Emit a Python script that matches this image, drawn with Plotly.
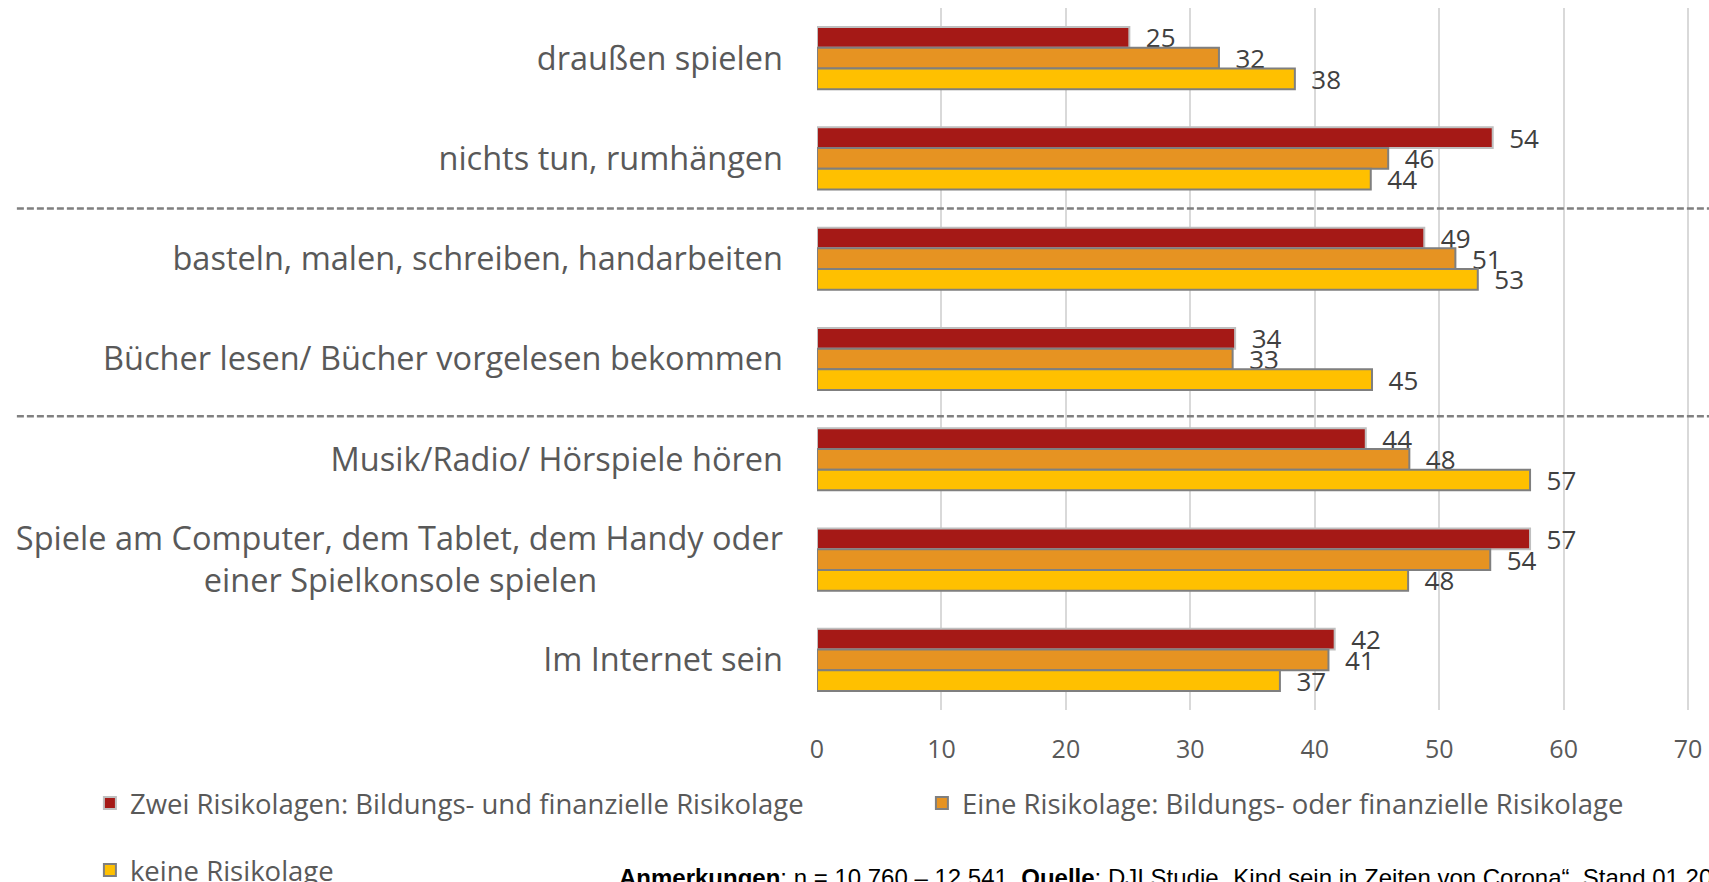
import plotly.graph_objects as go

categories = [
    "draußen spielen",
    "nichts tun, rumhängen",
    "basteln, malen, schreiben, handarbeiten",
    "Bücher lesen/ Bücher vorgelesen bekommen",
    "Musik/Radio/ Hörspiele hören",
    "Spiele am Computer, dem Tablet, dem Handy oder<br>einer Spielkonsole spielen" + "\u00a0" * 22,
    "Im Internet sein",
]
series_names = [
    "Zwei Risikolagen: Bildungs- und finanzielle Risikolage",
    "Eine Risikolage: Bildungs- oder finanzielle Risikolage",
    "keine Risikolage",
]
zwei = [25.1, 54.3, 48.8, 33.6, 44.1, 57.3, 41.6]
eine = [32.3, 45.9, 51.3, 33.4, 47.6, 54.1, 41.1]
keine = [38.4, 44.5, 53.1, 44.6, 57.3, 47.5, 37.2]
x_ticks = [0, 10, 20, 30, 40, 50, 60, 70]

colors = ["#A51916", "#E69322", "#FFC000"]
borders = ["#BFBFBF", "#7F7F7F", "#7F7F7F"]
FONT = "Open Sans, Noto Sans, sans-serif"

fig = go.Figure()
for i, (vals, name) in enumerate(zip([zwei, eine, keine], series_names)):
    fig.add_trace(go.Bar(
        y=categories, x=vals, name=name, orientation="h",
        marker=dict(color=colors[i], line=dict(color=borders[i], width=2)),
        text=[f"{round(v):d}" for v in vals],
        texttemplate="\u00a0\u00a0%{text}",
        textposition="outside",
        constraintext="none",
        textfont=dict(family=FONT, size=26, color="#404040"),
        cliponaxis=False,
        legend="legend" if i < 2 else "legend2",
    ))

fig.data[0].legendwidth = 787
fig.data[1].legendwidth = 690

# dashed separators
for yv in [1.5, 3.57]:
    fig.add_shape(type="line", xref="paper", yref="y", x0=-0.897, x1=1.0, y0=yv, y1=yv,
                  line=dict(color="#808080", width=2.5, dash="7px,3px"), layer="above")

fig.add_annotation(
    xref="paper", yref="paper", x=(616 - 816.5) / 892.5, y=(710 - 862) / 702,
    xanchor="left", yanchor="top", showarrow=False, align="left",
    text="<b>Anmerkungen</b>: n = 10.760 – 12.541. <b>Quelle</b>: DJI Studie „Kind sein in Zeiten von Corona“, Stand 01.2021",
    font=dict(family="Liberation Sans, Arial, sans-serif", size=24, color="#000000"),
)

fig.update_layout(
    width=1709, height=882,
    margin=dict(l=816.5, r=0, t=8, b=172, autoexpand=False),
    paper_bgcolor="white", plot_bgcolor="white",
    barmode="group", bargap=0.38, bargroupgap=0,
    font=dict(family=FONT, color="#595959"),
    xaxis=dict(range=[0, 71.68], tickvals=x_ticks, showgrid=True, gridcolor="#D9D9D9", gridwidth=1.5,
               zeroline=False, showline=False, ticks="", ticklabelstandoff=22,
               tickfont=dict(family=FONT, size=25, color="#595959")),
    yaxis=dict(autorange="reversed", showgrid=False, zeroline=False, showline=False, ticks="",
               ticklabelstandoff=33, tickfont=dict(family=FONT, size=32.5, color="#595959")),
    legend=dict(orientation="h", xref="paper", yref="paper", x=(89 - 816.5) / 892.5, y=-93 / 702,
                xanchor="left", yanchor="middle", font=dict(family=FONT, size=27.5, color="#595959"),
                bgcolor="rgba(0,0,0,0)", traceorder="normal"),
    legend2=dict(orientation="h", xref="paper", yref="paper", x=(89 - 816.5) / 892.5, y=-160 / 702,
                 xanchor="left", yanchor="middle", font=dict(family=FONT, size=27.5, color="#595959"),
                 bgcolor="rgba(0,0,0,0)"),
    showlegend=True,
)

fig.write_html("out.html", config={"displayModeBar": False},
               post_script="document.body.style.margin='0px';")
